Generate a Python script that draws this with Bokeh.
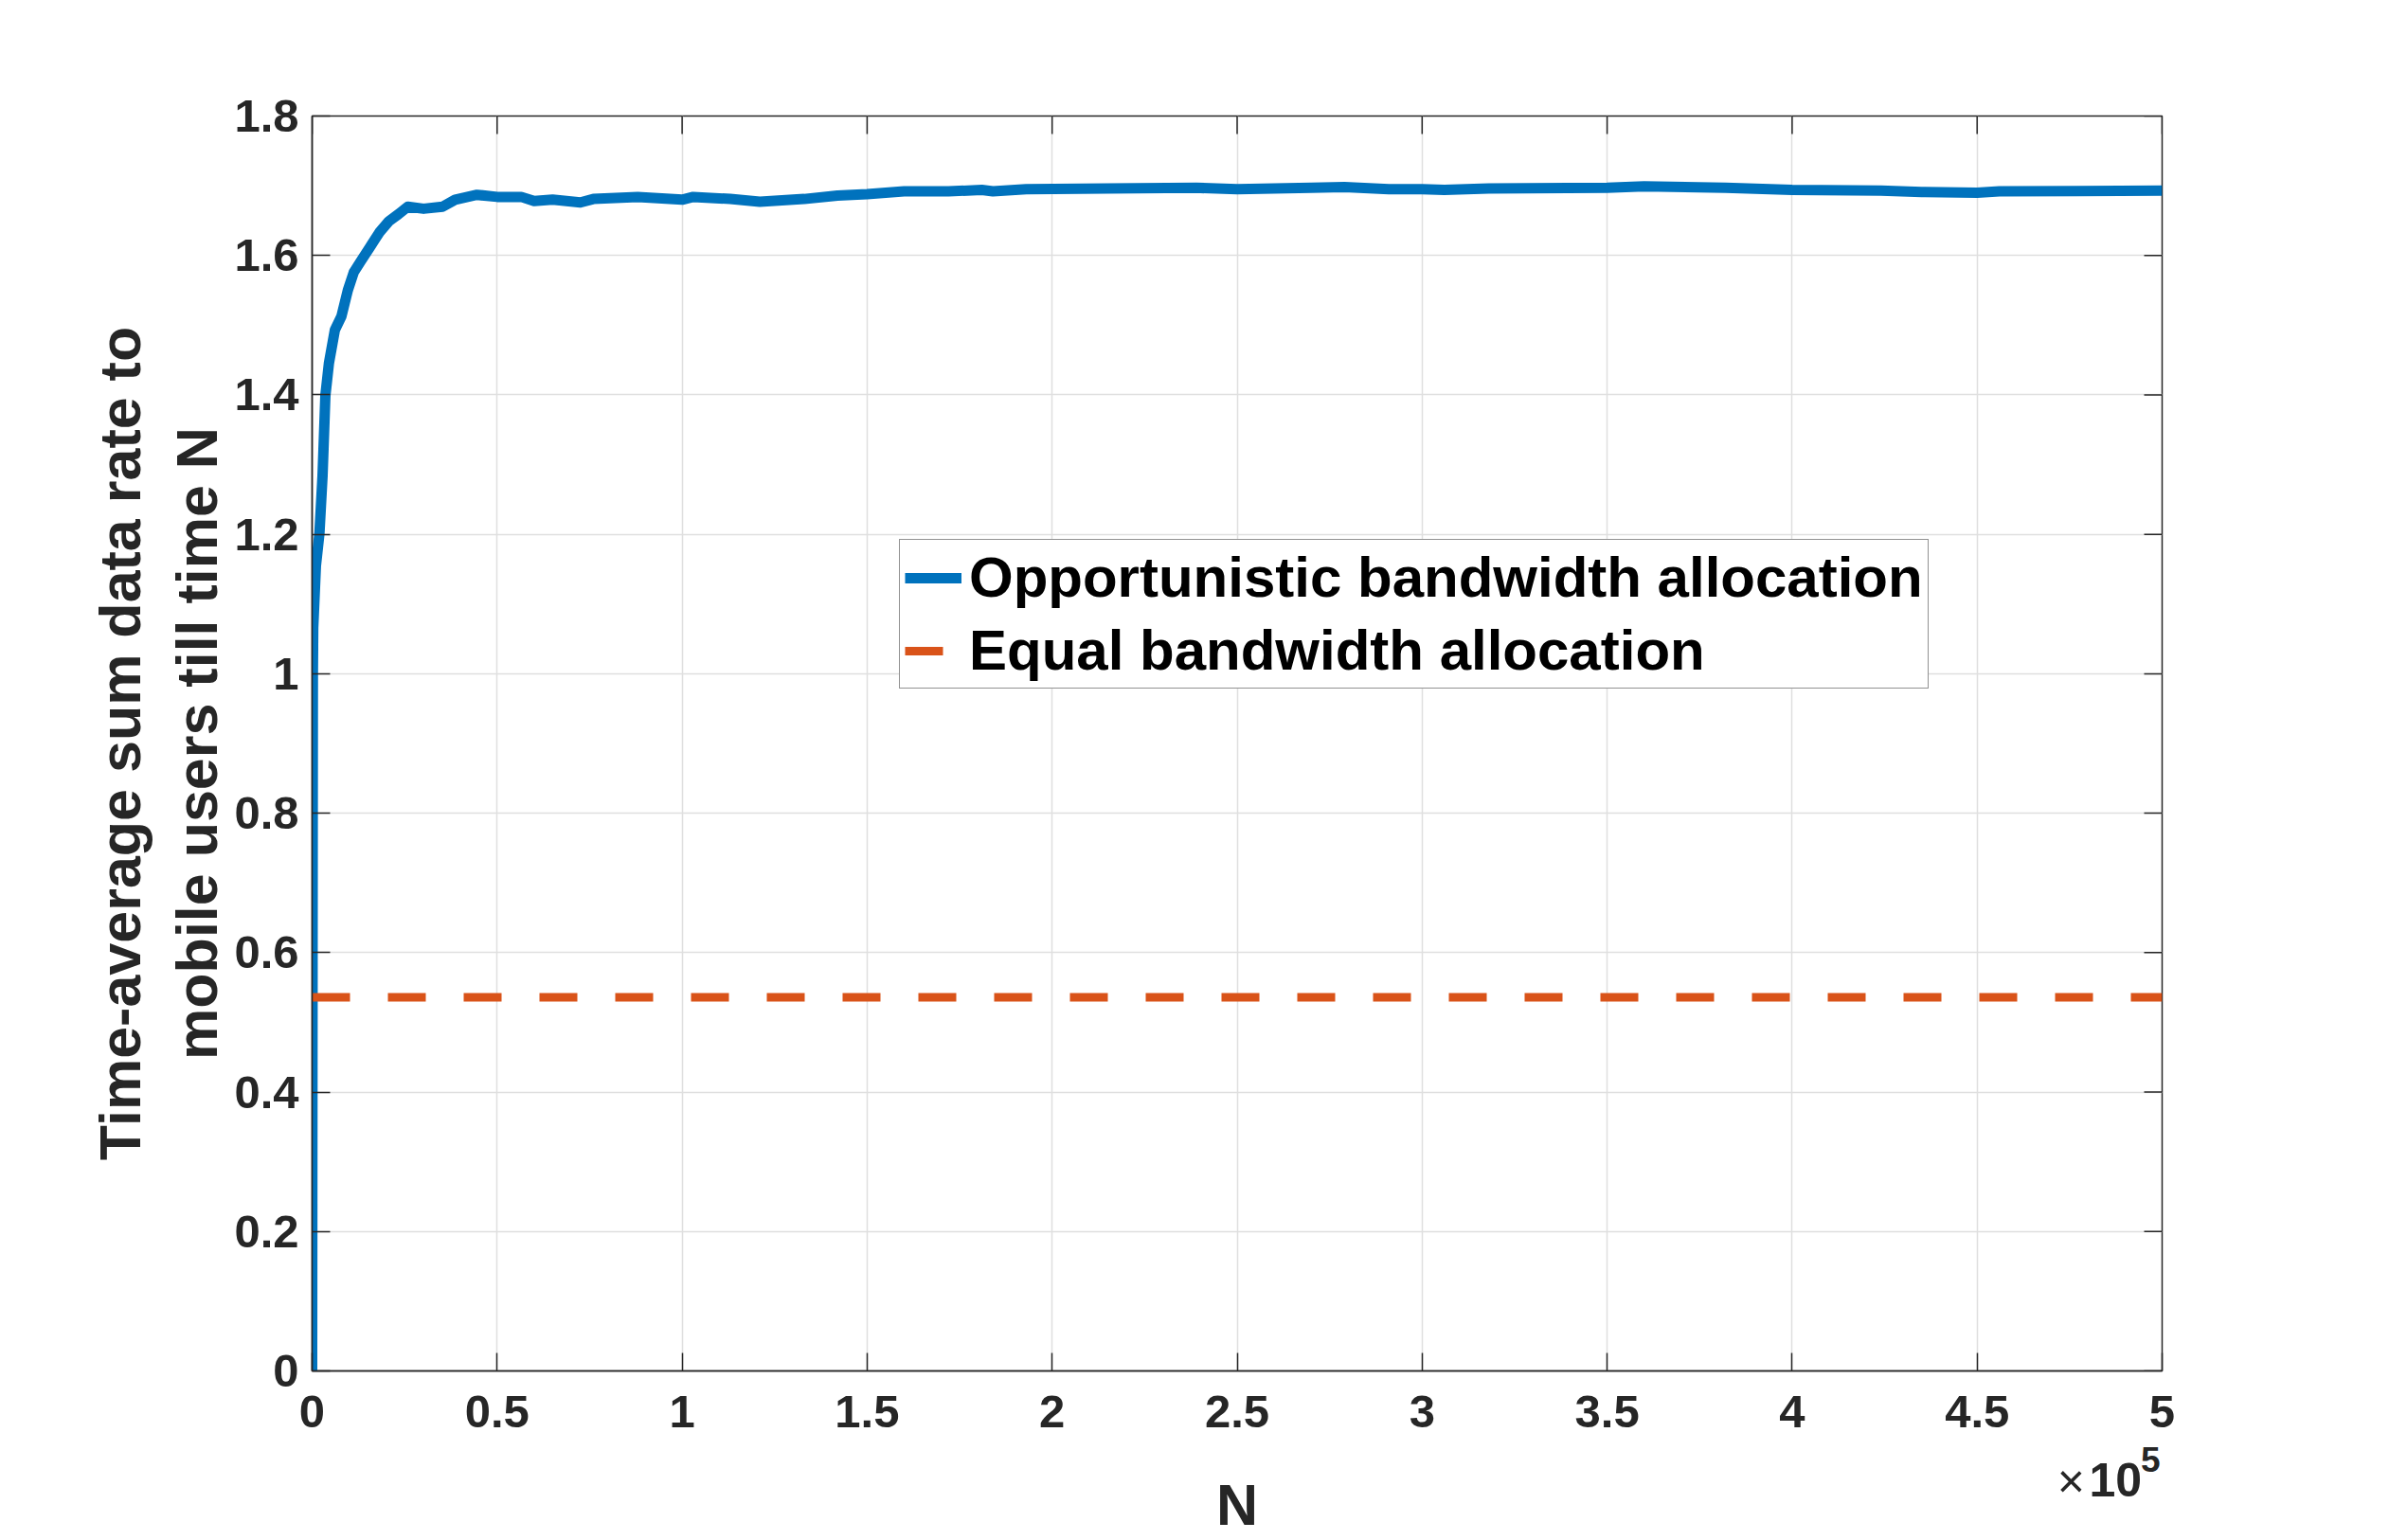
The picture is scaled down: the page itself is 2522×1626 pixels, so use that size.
from bokeh.plotting import figure
from bokeh.models import FixedTicker, LinearAxis, Legend, LegendItem
from bokeh.embed import file_html
from bokeh.resources import INLINE

# ---- data ----
n_opp = [0, 200, 300, 1024, 1970, 2816, 3584, 4530, 6144, 7936, 9650, 11264, 13056,
         15616, 18176, 20736, 23296, 25856, 30131, 35251, 38656, 44544, 50000, 56500,
         60000, 65000, 72500, 76000, 88000, 100000, 103000, 113000, 121000, 133000,
         142000, 150000, 160000, 172000, 181000, 184000, 193000, 215000, 239000, 250000,
         270000, 279000, 291000, 300000, 306000, 318000, 350000, 360000, 382000, 400000,
         424000, 435000, 450000, 456000, 477000, 500000]
rate_opp = [0.0, 1.0, 1.066, 1.155, 1.201, 1.284, 1.399, 1.445, 1.493, 1.513, 1.550, 1.576,
            1.591, 1.612, 1.633, 1.649, 1.659, 1.670, 1.667, 1.670, 1.680, 1.687, 1.684,
            1.684, 1.678, 1.680, 1.676, 1.681, 1.684, 1.680, 1.684, 1.681, 1.677, 1.681,
            1.686, 1.688, 1.692, 1.692, 1.694, 1.692, 1.695, 1.696, 1.697, 1.695, 1.697,
            1.698, 1.695, 1.695, 1.694, 1.696, 1.697, 1.699, 1.697, 1.694, 1.693, 1.691,
            1.690, 1.692, 1.6925, 1.693]
n_equal = [0, 500000]
rate_equal = [0.536, 0.536]

x_ticks = [0, 50000, 100000, 150000, 200000, 250000, 300000, 350000, 400000, 450000, 500000]
x_tick_labels = ["0", "0.5", "1", "1.5", "2", "2.5", "3", "3.5", "4", "4.5", "5"]
y_ticks = [0, 0.2, 0.4, 0.6, 0.8, 1.0, 1.2, 1.4, 1.6, 1.8]
y_tick_labels = ["0", "0.2", "0.4", "0.6", "0.8", "1", "1.2", "1.4", "1.6", "1.8"]
mult_times, mult_times_pos = "×", 475400
mult_base, mult_base_pos = "10", 487400
mult_exp, mult_exp_pos = "5", 496900

series_names = ["Opportunistic bandwidth allocation", "Equal bandwidth allocation"]
x_label = "N"
y_label = "Time-average sum data rate to\nmobile users till time N"

BLUE = "#0072BD"
ORANGE = "#D95319"
DARK = "#262626"
FONT = "Liberation Sans"
X0, X1, Y0, Y1 = 0, 500000, 0, 1.8
FW, FH = 1953, 1325
TICK = 19

p = figure(frame_width=FW, frame_height=FH,
           min_border_left=329, min_border_right=232, min_border_top=122, min_border_bottom=171,
           x_range=(X0, X1), y_range=(Y0, Y1),
           output_backend="svg", toolbar_location=None,
           background_fill_color="white", border_fill_color="white")
p.outline_line_color = DARK
p.outline_line_width = 1.5

p.xgrid.ticker = FixedTicker(ticks=x_ticks)
p.ygrid.ticker = FixedTicker(ticks=y_ticks)
p.grid.grid_line_color = "#dfdfdf"
p.grid.grid_line_width = 1.5

# inward ticks on the top and right edges of the box
dy = TICK * (Y1 - Y0) / FH
dx = TICK * (X1 - X0) / FW
p.segment(x0=x_ticks, y0=[Y1] * len(x_ticks), x1=x_ticks, y1=[Y1 - dy] * len(x_ticks),
          line_color=DARK, line_width=1.5)
p.segment(x0=[X1] * len(y_ticks), y0=y_ticks, x1=[X1 - dx] * len(y_ticks), y1=y_ticks,
          line_color=DARK, line_width=1.5)

r1 = p.line(n_opp, rate_opp, line_color=BLUE, line_width=11, line_join="round")
r2 = p.line(n_equal, rate_equal, line_color=ORANGE, line_width=9, line_dash="40 40")

for ax in p.xaxis + p.yaxis:
    ax.major_tick_in = TICK
    ax.major_tick_out = 0
    ax.minor_tick_in = 0
    ax.minor_tick_out = 0
    ax.axis_line_color = DARK
    ax.axis_line_width = 1.5
    ax.major_tick_line_color = DARK
    ax.major_tick_line_width = 1.5
    ax.major_label_text_font = FONT
    ax.major_label_text_font_style = "bold"
    ax.major_label_text_font_size = "49px"
    ax.major_label_text_color = DARK
    ax.axis_label_text_font = FONT
    ax.axis_label_text_font_style = "bold"
    ax.axis_label_text_font_size = "61px"
    ax.axis_label_text_color = DARK

p.xaxis.ticker = FixedTicker(ticks=x_ticks)
p.xaxis.major_label_overrides = {t: l for t, l in zip(x_ticks, x_tick_labels)}
p.xaxis.major_label_standoff = 26

p.yaxis.ticker = FixedTicker(ticks=y_ticks)
p.yaxis.major_label_overrides = {t: l for t, l in zip(y_ticks, y_tick_labels)}
p.yaxis.major_label_standoff = 14
p.yaxis.axis_label = y_label
p.yaxis.axis_label_standoff = 2


def text_axis(pos, text, size, standoff, style="bold", label=None, label_standoff=0):
    ax = LinearAxis(ticker=FixedTicker(ticks=[pos]), major_label_overrides={pos: text},
                    axis_line_color=None, major_tick_line_color=None,
                    major_tick_in=0, major_tick_out=0, minor_tick_in=0, minor_tick_out=0,
                    major_label_standoff=standoff,
                    major_label_text_font=FONT, major_label_text_font_style=style,
                    major_label_text_font_size=size, major_label_text_color=DARK)
    if label is not None:
        ax.axis_label = label
        ax.axis_label_standoff = label_standoff
        ax.axis_label_text_font = FONT
        ax.axis_label_text_font_style = "bold"
        ax.axis_label_text_font_size = "61px"
        ax.axis_label_text_color = DARK
    return ax


# line-less axes under the first one: the x10^5 multiplier and the "N" label
p.add_layout(text_axis(mult_times_pos, mult_times, "50px", 26, style="normal"), "below")
p.add_layout(text_axis(mult_base_pos, mult_base, "50px", -50), "below")
p.add_layout(text_axis(mult_exp_pos, mult_exp, "37px", -67, label=x_label, label_standoff=-2), "below")

legend = Legend(items=[LegendItem(label=series_names[0], renderers=[r1]),
                       LegendItem(label=series_names[1], renderers=[r2])],
                location=(620, 720))
legend.label_text_font = FONT
legend.label_text_font_style = "bold"
legend.label_text_font_size = "60px"
legend.label_text_color = "black"
legend.glyph_width = 60
legend.glyph_height = 62
legend.label_height = 62
legend.label_standoff = 8
legend.spacing = 8
legend.padding = 5
legend.margin = 0
legend.border_line_color = DARK
legend.border_line_width = 1.5
legend.background_fill_color = "white"
legend.background_fill_alpha = 1.0
p.add_layout(legend, "center")

open("out.html", "w").write(file_html(p, INLINE))
